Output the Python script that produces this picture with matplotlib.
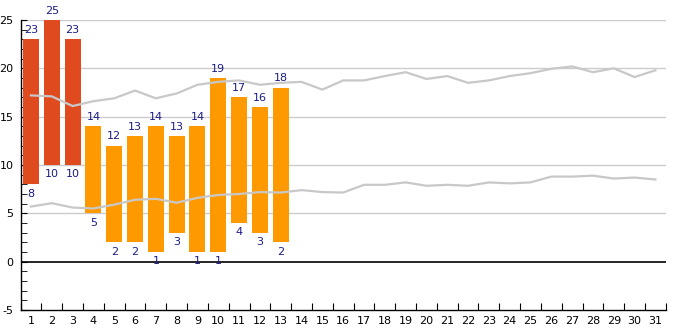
import numpy as np
import matplotlib.pyplot as plt

plt.rcParams['axes.unicode_minus'] = False

days = list(range(1, 32))
tick_labels = [str(d) for d in days]

# observed daily range (first 13 days)
obs_days = list(range(1, 14))
obs_low = [8, 10, 10, 5, 2, 2, 1, 3, 1, 1, 4, 3, 2]
obs_high = [23, 25, 23, 14, 12, 13, 14, 13, 14, 19, 17, 16, 18]
hot_days = 3  # first days drawn in red

# average high / low
avg_high = [17.2, 17.1, 16.1, 16.6, 16.9, 17.7, 16.9, 17.4, 18.3, 18.6,
             18.75, 18.3, 18.5, 18.6, 17.8, 18.75, 18.75, 19.2, 19.6, 18.9,
             19.2, 18.5, 18.75, 19.2, 19.5, 19.95, 20.2, 19.6, 20.0, 19.1, 19.8]
avg_low = [5.7, 6.05, 5.6, 5.5, 5.9, 6.4, 6.5, 6.1, 6.6, 6.9,
            7.0, 7.2, 7.15, 7.4, 7.2, 7.15, 7.95, 7.95, 8.2, 7.85,
            7.95, 7.85, 8.2, 8.1, 8.2, 8.8, 8.8, 8.9, 8.6, 8.7, 8.5]

label_col = '#1c1c88'
grey = '#c8c8c8'
fs = 8

fig = plt.figure(figsize=(6.85, 3.3), dpi=100)
ax = fig.add_axes([0.030, 0.0606, 0.942, 0.8788])

ax.set_xlim(0.5, 31.5)
ax.set_ylim(-5, 25)

for y in [5, 10, 15, 20, 25]:
    ax.axhline(y, color='#cccccc', lw=1, zorder=0)
ax.axhline(0, color='black', lw=1.2, zorder=1)

colors = ['#e04a1f' if d <= hot_days else '#ff9900' for d in obs_days]
heights = [h - l for h, l in zip(obs_high, obs_low)]
ax.bar(obs_days, heights, bottom=obs_low, width=0.77, color=colors, zorder=2)

ax.plot(days, avg_high, color=grey, lw=1.6, zorder=3)
ax.plot(days, avg_low, color=grey, lw=1.6, zorder=3)

for d, lo, hi in zip(obs_days, obs_low, obs_high):
    ax.annotate(str(hi), (d, hi), xytext=(0, 3), textcoords='offset points',
                ha='center', va='bottom', color=label_col, fontsize=fs, zorder=4)
    ax.annotate(str(lo), (d, lo), xytext=(0, -3), textcoords='offset points',
                ha='center', va='top', color=label_col, fontsize=fs, zorder=4)

for s in ['top', 'right']:
    ax.spines[s].set_visible(False)
ax.spines['left'].set_linewidth(1)
ax.spines['bottom'].set_linewidth(1)

# y ticks: labels every 5, small inward ticks every 1
ax.set_yticks([-5, 0, 5, 10, 15, 20, 25])
ax.set_yticks(np.arange(-5, 26, 1), minor=True)
ax.tick_params(axis='y', which='major', direction='in', length=4, pad=5, labelsize=fs)
ax.tick_params(axis='y', which='minor', direction='in', length=4)

# x ticks: marks at category boundaries, labels at centres
ax.set_xticks(np.arange(0.5, 32, 1))
ax.set_xticklabels([])
ax.set_xticks(days, minor=True)
ax.set_xticklabels(tick_labels, minor=True)
ax.tick_params(axis='x', which='major', direction='in', length=5)
ax.tick_params(axis='x', which='minor', length=0, pad=4, labelsize=fs)

fig.savefig('out.png', dpi=100)
